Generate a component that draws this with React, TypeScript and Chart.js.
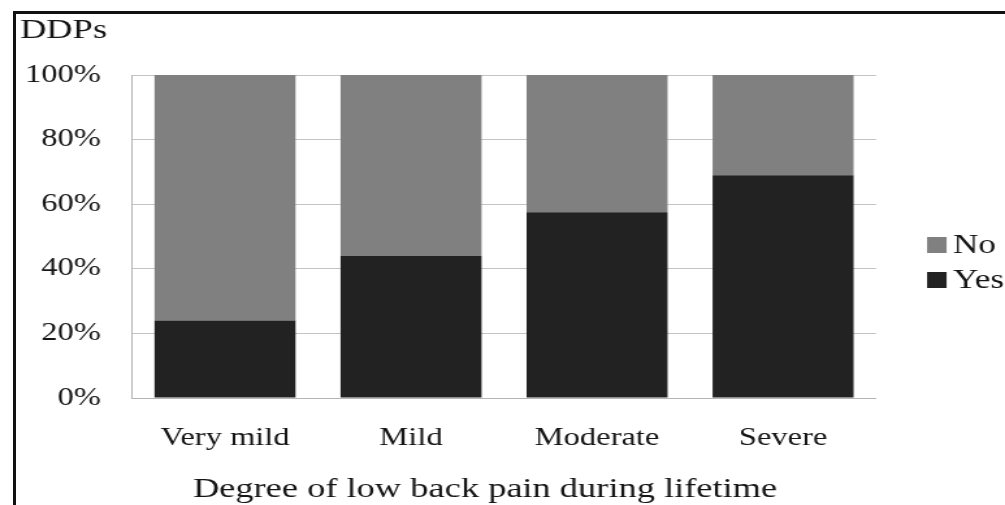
import React, { useEffect, useRef } from "react";
import { Chart, registerables } from "chart.js";

Chart.register(...registerables);

// ---- data ----
const categories = ["Very mild", "Mild", "Moderate", "Severe"];
const yesValues = [24, 44, 57.5, 69];
const noValues = [76, 56, 42.5, 31];
const seriesNames = ["Yes", "No"];
const seriesColors = ["#222222", "#808080"];
const yTickValues = [0, 20, 40, 60, 80, 100];
const yAxisTitle = "DDPs";
const xAxisTitle = "Degree of low back pain during lifetime";

// ---- layout (the reference is horizontally stretched) ----
const FULL_W = 1005;
const FULL_H = 505;
const SX = 1.3;
const LW = Math.round(FULL_W / SX);
const FONT = '"Liberation Serif", "Times New Roman", serif';
const TEXT = "#151515";

const overlayPlugin = {
  id: "overlay",
  afterDraw(chart: any) {
    const ctx = chart.ctx;
    ctx.save();
    ctx.fillStyle = TEXT;
    // y-axis title at the top left
    ctx.font = `28px ${FONT}`;
    ctx.textAlign = "left";
    ctx.textBaseline = "alphabetic";
    ctx.fillText(yAxisTitle, 20 / SX, 38);
    // x-axis title
    ctx.textAlign = "center";
    ctx.fillText(xAxisTitle, 485 / SX, 497);
    // legend (reverse order: No, Yes)
    const ds = chart.data.datasets.slice().reverse();
    ctx.font = `27px ${FONT}`;
    ctx.textAlign = "left";
    ds.forEach((d: any, i: number) => {
      const base = 253 + i * 35;
      ctx.fillStyle = d.backgroundColor;
      ctx.fillRect(927 / SX, base - 16, 15, 16);
      ctx.fillStyle = TEXT;
      ctx.fillText(d.label, 953 / SX, base);
    });
    ctx.restore();
  },
};

export default function App() {
  const ref = useRef<HTMLCanvasElement | null>(null);

  useEffect(() => {
    if (!ref.current) return;
    const chart = new Chart(ref.current, {
      type: "bar",
      data: {
        labels: categories,
        datasets: [
          {
            label: seriesNames[0],
            data: yesValues,
            backgroundColor: seriesColors[0],
            categoryPercentage: 1,
            barPercentage: 0.758,
          },
          {
            label: seriesNames[1],
            data: noValues,
            backgroundColor: seriesColors[1],
            categoryPercentage: 1,
            barPercentage: 0.758,
          },
        ],
      },
      options: {
        responsive: false,
        animation: false,
        devicePixelRatio: 1,
        layout: {
          padding: { top: 75, right: LW - 876 / SX, bottom: 0, left: 0 },
        },
        plugins: {
          legend: { display: false },
          title: { display: false },
          tooltip: { enabled: false },
        },
        scales: {
          x: {
            stacked: true,
            grid: { display: false, drawTicks: false },
            border: { display: true, color: "#b4b4b4", width: 1 },
            ticks: {
              padding: 25,
              color: TEXT,
              font: { family: FONT, size: 25 },
              maxRotation: 0,
            },
            afterFit: (s: any) => {
              s.height = FULL_H - 398;
            },
          },
          y: {
            stacked: true,
            min: 0,
            max: 100,
            afterBuildTicks: (s: any) => {
              s.ticks = yTickValues.map((v) => ({ value: v }));
            },
            grid: { color: "#c4c4c4", lineWidth: 1, drawTicks: false },
            border: { display: true, color: "#b4b4b4", width: 1 },
            ticks: {
              padding: 24,
              color: TEXT,
              font: { family: FONT, size: 25 },
              callback: (v: any) => `${v}%`,
            },
            afterFit: (s: any) => {
              s.width = 132 / SX;
            },
          },
        },
      },
      plugins: [overlayPlugin],
    });
    return () => chart.destroy();
  }, []);

  return (
    <div
      style={{
        position: "fixed",
        left: 0,
        top: 0,
        width: FULL_W,
        height: FULL_H,
        background: "#fff",
        overflow: "hidden",
      }}
    >
      <canvas
        ref={ref}
        width={LW}
        height={FULL_H}
        style={{ display: "block", width: `${FULL_W}px`, height: `${FULL_H}px` }}
      />
      <div
        style={{
          position: "absolute",
          left: 13,
          top: 11,
          right: 0,
          bottom: 0,
          borderLeft: "3px solid #111",
          borderTop: "3px solid #111",
          pointerEvents: "none",
        }}
      />
    </div>
  );
}
